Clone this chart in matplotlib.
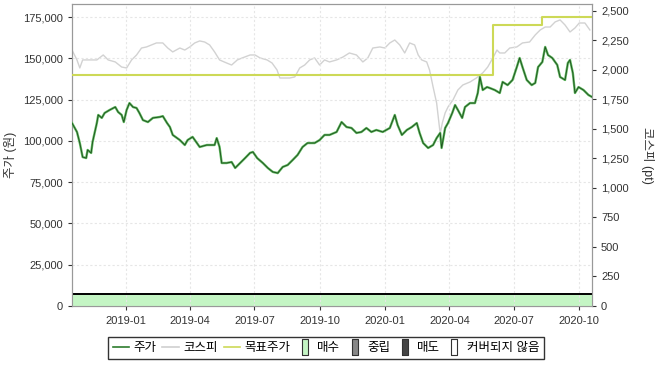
import matplotlib
matplotlib.use("Agg")
import matplotlib.pyplot as plt
import matplotlib.dates as mdates
from matplotlib.lines import Line2D
from matplotlib.ticker import FuncFormatter, MultipleLocator
import numpy as np
import pandas as pd

plt.rcParams['font.family'] = ['Liberation Sans', 'Noto Sans CJK KR', 'DejaVu Sans']

# 주가 (원)
price_dates = [
    "2018-10-17", "2018-10-24", "2018-10-28", "2018-11-01", "2018-11-06", "2018-11-08",
    "2018-11-13", "2018-11-15", "2018-11-21", "2018-11-23", "2018-11-28", "2018-12-02",
    "2018-12-09", "2018-12-17", "2018-12-21", "2018-12-26", "2018-12-29", "2019-01-02",
    "2019-01-06", "2019-01-11", "2019-01-16", "2019-01-20", "2019-01-25", "2019-02-01",
    "2019-02-08", "2019-02-18", "2019-02-22", "2019-02-28", "2019-03-04", "2019-03-08",
    "2019-03-18", "2019-03-25", "2019-03-29", "2019-04-05", "2019-04-11", "2019-04-15",
    "2019-04-25", "2019-05-06", "2019-05-09", "2019-05-13", "2019-05-16", "2019-05-23",
    "2019-05-30", "2019-06-04", "2019-06-11", "2019-06-18", "2019-06-25", "2019-06-29",
    "2019-07-05", "2019-07-13", "2019-07-20", "2019-07-27", "2019-08-03", "2019-08-10",
    "2019-08-17", "2019-08-24", "2019-08-31", "2019-09-07", "2019-09-14", "2019-09-24",
    "2019-10-01", "2019-10-08", "2019-10-15", "2019-10-25", "2019-11-01", "2019-11-08",
    "2019-11-15", "2019-11-22", "2019-11-29", "2019-12-06", "2019-12-13", "2019-12-20",
    "2019-12-29", "2020-01-08", "2020-01-15", "2020-01-19", "2020-01-25", "2020-02-01",
    "2020-02-08", "2020-02-15", "2020-02-19", "2020-02-24", "2020-03-02", "2020-03-09",
    "2020-03-14", "2020-03-19", "2020-03-21", "2020-03-26", "2020-03-30", "2020-04-05",
    "2020-04-09", "2020-04-13", "2020-04-19", "2020-04-23", "2020-04-30", "2020-05-07",
    "2020-05-11", "2020-05-14", "2020-05-18", "2020-05-24", "2020-05-28", "2020-06-04",
    "2020-06-11", "2020-06-15", "2020-06-22", "2020-06-29", "2020-07-05", "2020-07-09",
    "2020-07-13", "2020-07-19", "2020-07-26", "2020-07-31", "2020-08-04", "2020-08-10",
    "2020-08-14", "2020-08-18", "2020-08-24", "2020-08-31", "2020-09-04", "2020-09-11",
    "2020-09-15", "2020-09-18", "2020-09-22", "2020-09-25", "2020-09-30", "2020-10-07",
    "2020-10-14", "2020-10-19",
]
price_values = [
    110800, 105400, 98700, 90200, 89600, 94500,
    92700, 99300, 110800, 115700, 113900, 116900,
    118700, 120500, 117500, 115700, 111400, 118700,
    122900, 120500, 119900, 116900, 112600, 111400,
    113900, 114500, 115000, 110800, 108400, 103600,
    100500, 97500, 100500, 102400, 98700, 96300,
    97500, 97500, 101700, 96300, 86600, 86600,
    87200, 83600, 86600, 89600, 92700, 93300,
    89600, 86600, 83600, 81200, 80500, 84200,
    85400, 88400, 91500, 96300, 98700, 98700,
    100500, 103600, 103600, 105400, 111400, 108400,
    107800, 104800, 105400, 107800, 105400, 106600,
    105400, 107800, 115700, 109600, 103600, 106600,
    108400, 110800, 104800, 98700, 95700, 97500,
    101700, 104800, 95700, 107800, 110800, 116900,
    121700, 118700, 113900, 120500, 122900, 122900,
    129000, 138700, 130800, 132600, 132000, 130800,
    129000, 135700, 133800, 136900, 144700, 150200,
    144700, 136900, 133800, 135100, 144700, 147800,
    156900, 152000, 150200, 146000, 138700, 136900,
    147200, 149000, 141100, 129000, 132600, 130800,
    127800, 126600,
]

# 코스피 (pt)
kospi_dates = [
    "2018-10-17", "2018-10-24", "2018-10-28", "2018-11-01", "2018-11-11", "2018-11-21",
    "2018-11-30", "2018-12-07", "2018-12-17", "2018-12-26", "2019-01-02", "2019-01-09",
    "2019-01-16", "2019-01-23", "2019-01-30", "2019-02-06", "2019-02-13", "2019-02-22",
    "2019-03-01", "2019-03-08", "2019-03-18", "2019-03-25", "2019-04-01", "2019-04-08",
    "2019-04-15", "2019-04-22", "2019-04-29", "2019-05-06", "2019-05-13", "2019-05-23",
    "2019-05-30", "2019-06-07", "2019-06-14", "2019-06-25", "2019-07-02", "2019-07-09",
    "2019-07-19", "2019-07-26", "2019-08-02", "2019-08-06", "2019-08-13", "2019-08-20",
    "2019-08-27", "2019-09-03", "2019-09-10", "2019-09-17", "2019-09-24", "2019-10-01",
    "2019-10-08", "2019-10-15", "2019-10-25", "2019-11-03", "2019-11-12", "2019-11-22",
    "2019-12-01", "2019-12-08", "2019-12-15", "2019-12-25", "2020-01-01", "2020-01-08",
    "2020-01-15", "2020-01-22", "2020-01-29", "2020-02-05", "2020-02-12", "2020-02-17",
    "2020-02-22", "2020-02-29", "2020-03-04", "2020-03-09", "2020-03-14", "2020-03-19",
    "2020-03-22", "2020-03-26", "2020-03-30", "2020-04-06", "2020-04-13", "2020-04-20",
    "2020-04-30", "2020-05-09", "2020-05-18", "2020-05-25", "2020-06-02", "2020-06-07",
    "2020-06-11", "2020-06-18", "2020-06-25", "2020-07-05", "2020-07-13", "2020-07-23",
    "2020-07-31", "2020-08-07", "2020-08-14", "2020-08-21", "2020-08-28", "2020-09-04",
    "2020-09-11", "2020-09-18", "2020-09-25", "2020-10-01", "2020-10-09", "2020-10-16",
]
kospi_values = [
    2169, 2085, 2017, 2085, 2085, 2085,
    2127, 2085, 2068, 2025, 2017, 2085,
    2127, 2186, 2195, 2212, 2229, 2229,
    2186, 2153, 2186, 2169, 2195, 2229,
    2246, 2237, 2212, 2153, 2085, 2059,
    2042, 2085, 2102, 2127, 2127, 2102,
    2085, 2059, 2000, 1932, 1932, 1932,
    1941, 2017, 2042, 2085, 2102, 2042,
    2085, 2068, 2085, 2110, 2144, 2127,
    2068, 2102, 2186, 2195, 2186, 2229,
    2254, 2212, 2144, 2229, 2212, 2127,
    2085, 2068, 2000, 1856, 1720, 1460,
    1551, 1636, 1686, 1746, 1831, 1873,
    1898, 1932, 1975, 2025, 2110, 2169,
    2144, 2144, 2186, 2195, 2229, 2237,
    2297, 2339, 2364, 2364, 2407, 2424,
    2381, 2322, 2356, 2398, 2398, 2339,
]

# 목표주가 (원)
target_dates = ["2018-10-17", "2020-06-01", "2020-08-10", "2020-10-19"]
target_values = [140000, 170000, 175000, 175000]

# 투자의견 (매수) band
rating_band_top = 7300

pdates = pd.to_datetime(price_dates)
kdates = pd.to_datetime(kospi_dates)
tdates = pd.to_datetime(target_dates)

fig = plt.figure(figsize=(6.58, 3.71), dpi=100)
ax = fig.add_axes([72 / 658, 1 - 306 / 371, 520 / 658, 302 / 371])
ax2 = ax.twinx()

xmin = pd.Timestamp("2018-10-17")
xmax = pd.Timestamp("2020-10-19")

# 매수 구간
ax.fill_between([xmin, xmax], 0, rating_band_top, color='#c4f5c4', zorder=1)
ax.plot([xmin, xmax], [rating_band_top, rating_band_top], color='black', lw=1.4, zorder=2)

# 코스피는 오른쪽 축, 뒤에 그림
ax2.plot(kdates, kospi_values, color='#d2d2d2', lw=1.0, zorder=1)
ax.set_zorder(ax2.get_zorder() + 1)
ax.patch.set_visible(False)

ax.step(tdates, target_values, where='post', color='#cdd957', lw=1.5, zorder=3)
ax.plot(pdates, price_values, color='#5cb85c', lw=1.7, zorder=4)
ax.plot(pdates, price_values, color='#1e4d1e', lw=0.6, zorder=5)

ax.set_xlim(xmin, xmax)
ax.set_ylim(0, 182900)
ax2.set_ylim(0, 2559)

ax.yaxis.set_major_locator(MultipleLocator(25000))
ax2.yaxis.set_major_locator(MultipleLocator(250))
fmt = FuncFormatter(lambda v, p: f"{int(v):,}")
ax.yaxis.set_major_formatter(fmt)
ax2.yaxis.set_major_formatter(fmt)

ax.xaxis.set_major_locator(mdates.MonthLocator(bymonth=[1, 4, 7, 10]))
ax.xaxis.set_major_formatter(mdates.DateFormatter("%Y-%m"))

ax.grid(True, color='#e6e6e6', lw=0.8, ls=(0, (2, 2)))
for a in (ax, ax2):
    a.tick_params(labelsize=8, colors='#333333', length=3, width=0.8)
    for s in a.spines.values():
        s.set_color('#999999')
ax.tick_params(axis='x', pad=4)

ax.set_ylabel("주가 (원)", fontsize=9, color='#333333', labelpad=4)
ax2.set_ylabel("코스피 (pt)", fontsize=9, color='#333333', rotation=270, labelpad=18)

# 범례
rect = [(-0.4, -1), (0.4, -1), (0.4, 1), (-0.4, 1), (-0.4, -1)]
handles = [
    Line2D([], [], color='#2e7d2e', lw=1.2),
    Line2D([], [], color='#cfcfcf', lw=1.2),
    Line2D([], [], color='#cdd957', lw=1.2),
    Line2D([], [], ls='none', marker=rect, markersize=11, markerfacecolor='#c4f5c4', markeredgecolor='#333333', markeredgewidth=0.8),
    Line2D([], [], ls='none', marker=rect, markersize=11, markerfacecolor='#888888', markeredgecolor='#333333', markeredgewidth=0.8),
    Line2D([], [], ls='none', marker=rect, markersize=11, markerfacecolor='#444444', markeredgecolor='#333333', markeredgewidth=0.8),
    Line2D([], [], ls='none', marker=rect, markersize=11, markerfacecolor='white', markeredgecolor='#333333', markeredgewidth=0.8),
]
labels = ["주가", "코스피", "목표주가", "매수", "중립", "매도", "커버되지 않음"]
leg = fig.legend(handles, labels, loc='center', bbox_to_anchor=(326 / 658, 1 - 348 / 371),
                 ncol=7, fontsize=9, frameon=True, fancybox=False, edgecolor='black',
                 handlelength=1.3, handletextpad=0.35, columnspacing=0.5, borderpad=0.4)
leg.get_frame().set_linewidth(1.0)

fig.savefig("out.png", dpi=100)
